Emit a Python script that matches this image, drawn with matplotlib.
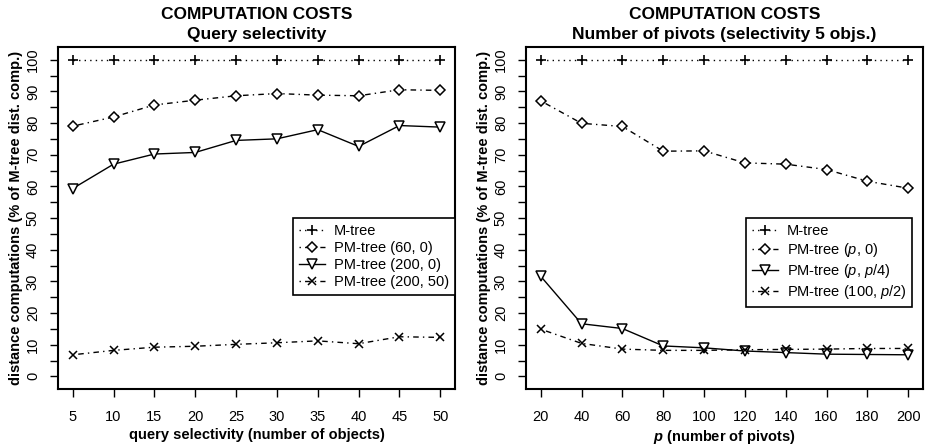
import matplotlib
matplotlib.use("Agg")
import matplotlib.pyplot as plt

plt.rcParams['font.family'] = ['Liberation Sans', 'DejaVu Sans']
plt.rcParams['mathtext.fontset'] = 'custom'
plt.rcParams['mathtext.rm'] = 'Liberation Sans'
plt.rcParams['mathtext.it'] = 'Liberation Sans:italic'
plt.rcParams['mathtext.bf'] = 'Liberation Sans:bold'
plt.rcParams['mathtext.bfit'] = 'Liberation Sans:italic:bold'

# Left panel: query selectivity
sel = [5, 10, 15, 20, 25, 30, 35, 40, 45, 50]
sel_mtree = [100, 100, 100, 100, 100, 100, 100, 100, 100, 100]
sel_pm60_0 = [79.0, 81.9, 85.7, 87.2, 88.6, 89.3, 88.8, 88.6, 90.5, 90.3]
sel_pm200_0 = [59.3, 67.0, 70.2, 70.7, 74.5, 75.0, 77.9, 72.6, 79.2, 78.7]
sel_pm200_50 = [6.8, 8.2, 9.2, 9.5, 10.1, 10.6, 11.2, 10.3, 12.5, 12.3]
sel_labels = ["M-tree", "PM-tree (60, 0)", "PM-tree (200, 0)", "PM-tree (200, 50)"]

# Right panel: number of pivots
piv = [20, 40, 60, 80, 100, 120, 140, 160, 180, 200]
piv_mtree = [100, 100, 100, 100, 100, 100, 100, 100, 100, 100]
piv_pm_p_0 = [87.0, 79.9, 78.9, 71.1, 71.2, 67.4, 67.0, 65.3, 61.6, 59.4]
piv_pm_p_p4 = [31.6, 16.6, 15.1, 9.6, 9.0, 8.0, 7.5, 7.0, 6.9, 6.8]
piv_pm100_p2 = [14.9, 10.4, 8.6, 8.2, 8.2, 8.4, 8.5, 8.6, 8.8, 8.8]
piv_labels = ["M-tree", r"PM-tree ($p$, 0)", r"PM-tree ($p$, $p$/4)", r"PM-tree (100, $p$/2)"]

dotted = (0, (1, 3))
dotdash = (0, (1, 3, 4, 3))
styles = [
    dict(marker='+', ms=7, mew=1.2, ls=dotted),
    dict(marker='D', ms=5.5, mfc='white', mew=1.1, ls=dotdash),
    dict(marker='v', ms=7, mfc='white', mew=1.1, ls='-'),
    dict(marker='x', ms=5.5, mew=1.1, ls=dotdash),
]

W, H = 928, 446
fig = plt.figure(figsize=(W / 100, H / 100), dpi=100)


def panel(left, x, series, labels, title, xlabel, xpad, legx):
    ax = fig.add_axes([left / W, (H - 389) / H, 397 / W, 342 / H])
    for y, lab, st in zip(series, labels, styles):
        ax.plot(x, y, color='black', lw=1, label=lab, **st)
    ax.set_xlim(x[0] - xpad, x[-1] + xpad)
    ax.set_ylim(-4, 104)
    ax.set_xticks(x)
    ax.set_xticklabels([str(v) for v in x])
    ax.set_yticks(range(0, 101, 10))
    ax.set_yticks(range(5, 101, 10), minor=True)
    ax.set_yticklabels([str(v) for v in range(0, 101, 10)], rotation=90, va='center')
    ax.tick_params(which='both', direction='out', length=6, width=1, labelsize=10.5)
    ax.tick_params(axis='x', pad=9)
    ax.tick_params(axis='y', pad=7)
    for sp in ax.spines.values():
        sp.set_linewidth(1.5)
    ax.set_title(title, fontsize=12.5, fontweight='bold', pad=6, linespacing=1.4)
    ax.set_xlabel(xlabel, fontsize=10.5, fontweight='bold', labelpad=3)
    ax.set_ylabel("distance computations (% of M-tree dist. comp.)",
                  fontsize=10.5, fontweight='bold', labelpad=2)
    leg = ax.legend(loc='upper left', bbox_to_anchor=(legx, 0.5), fontsize=10.5,
                    frameon=True, fancybox=False, edgecolor='black', framealpha=1,
                    borderaxespad=0, handlelength=1.8, handletextpad=0.6,
                    labelspacing=0.22, borderpad=0.4)
    leg.get_frame().set_linewidth(1.2)
    return ax


panel(58, sel, [sel_mtree, sel_pm60_0, sel_pm200_0, sel_pm200_50], sel_labels,
      "COMPUTATION COSTS\nQuery selectivity",
      "query selectivity (number of objects)", 1.8, 0.592)
panel(526, piv, [piv_mtree, piv_pm_p_0, piv_pm_p_p4, piv_pm100_p2], piv_labels,
      "COMPUTATION COSTS\nNumber of pivots (selectivity 5 objs.)",
      r"$\mathbfit{p}$ (number of pivots)", 7.2, 0.554)

fig.savefig("out.png", dpi=100)
